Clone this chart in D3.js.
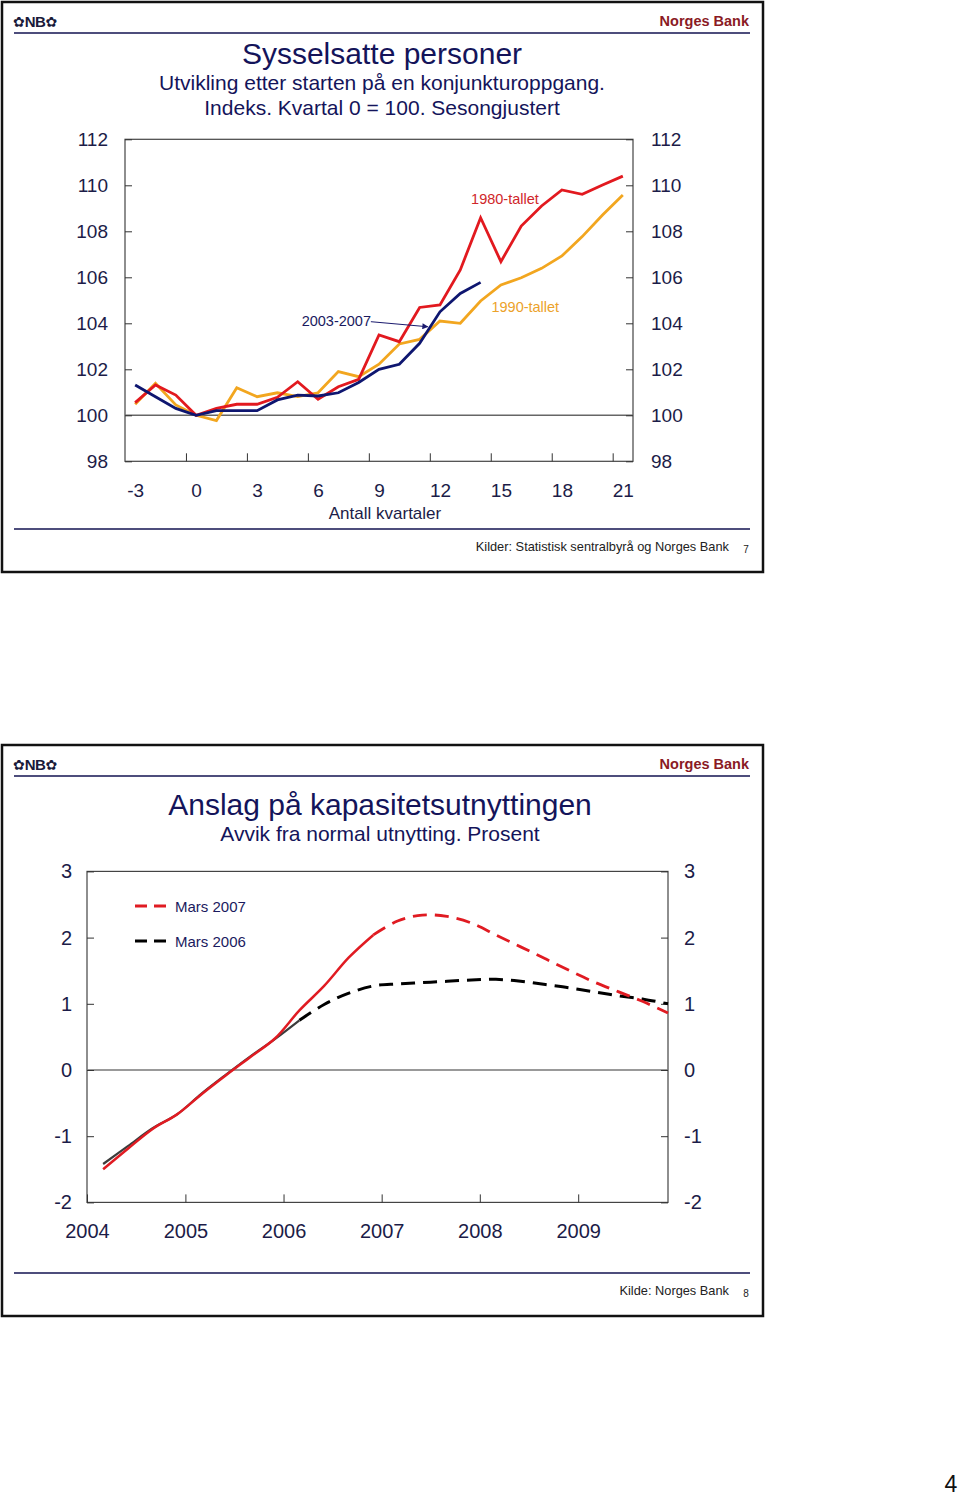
<!DOCTYPE html>
<html><head><meta charset="utf-8">
<script src="https://cdn.jsdelivr.net/npm/d3@7"></script>
<style>
body{margin:0;background:#fff;}
svg text{font-family:"Liberation Sans",Arial,sans-serif;}
</style></head><body>
<svg id="c" width="960" height="1497"></svg>
<script>
// ---------- Chart 1 data ----------
const quarters = [-3,-2,-1,0,1,2,3,4,5,6,7,8,9,10,11,12,13,14,15,16,17,18,19,20,21];
const tallet1980 = [100.55,101.32,100.88,100,100.3,100.48,100.48,100.78,101.46,100.7,101.24,101.56,103.49,103.2,104.69,104.8,106.32,108.59,106.68,108.23,109.1,109.8,109.61,110.01,110.4];
const tallet1990 = [100.48,101.39,100.45,100,99.77,101.2,100.81,100.98,100.81,100.98,101.9,101.68,102.22,103.1,103.3,104.1,104.0,104.97,105.67,105.98,106.39,106.93,107.77,108.71,109.58];
const periode2003 = [101.32,100.81,100.3,100,100.2,100.2,100.2,100.67,100.88,100.84,100.98,101.43,102.0,102.22,103.13,104.5,105.3,105.78];
const xTickLabels1 = [-3,0,3,6,9,12,15,18,21];
const yTicks1 = [98,100,102,104,106,108,110,112];

// ---------- Chart 2 data ----------
const quarterDates = ["2004-03","2004-06","2004-09","2004-12","2005-03","2005-06","2005-09","2005-12",
  "2006-03","2006-06","2006-09","2006-12","2007-03","2007-06","2007-09","2007-12",
  "2008-03","2008-06","2008-09","2008-12","2009-03","2009-06","2009-09","2009-12"];
const mars2007 = [-1.50,-1.19,-0.89,-0.67,-0.37,-0.08,0.20,0.48,0.90,1.27,1.70,2.04,2.25,2.34,2.32,2.22,2.04,1.86,1.68,1.50,1.33,1.18,1.03,0.86];
const mars2006 = [-1.42,-1.15,-0.88,-0.67,-0.36,-0.07,0.21,0.47,0.75,0.99,1.16,1.27,1.30,1.32,1.34,1.36,1.37,1.34,1.29,1.24,1.18,1.12,1.07,1.00];
const histEnd2007 = 11, histEnd2006 = 8;
const yTicks2 = [-2,-1,0,1,2,3];
const years2 = [2004,2005,2006,2007,2008,2009];

const svg = d3.select("#c");
const NAVY = "#14145a", TXT = "#1c1c48", DARKRED = "#8a1a24", RULE = "#4e4e7c";

function panel(y0, h, pageNo, source) {
  svg.append("rect").attr("x",2).attr("y",y0).attr("width",761).attr("height",h)
    .attr("fill","#fff").attr("stroke","#111").attr("stroke-width",2.5);
  const logo = svg.append("text").attr("x",13).attr("y",y0+19).attr("dy","0.35em").attr("fill","#1a1a3a");
  logo.append("tspan").attr("font-size",14).attr("font-family","DejaVu Sans").text("✿");
  logo.append("tspan").attr("font-size",15).attr("font-weight","bold").attr("letter-spacing",-0.5).text("NB");
  logo.append("tspan").attr("font-size",14).attr("font-family","DejaVu Sans").text("✿");
  svg.append("text").attr("x",749).attr("y",y0+19).attr("dy","0.35em").attr("text-anchor","end")
    .attr("font-size",14.5).attr("font-weight","bold").attr("fill",DARKRED).text("Norges Bank");
  svg.append("line").attr("x1",14).attr("x2",750).attr("y1",y0+31).attr("y2",y0+31)
    .attr("stroke",RULE).attr("stroke-width",2);
  svg.append("line").attr("x1",14).attr("x2",750).attr("y1",y0+h-43).attr("y2",y0+h-43)
    .attr("stroke",RULE).attr("stroke-width",2);
  svg.append("text").attr("x",729).attr("y",y0+h-25).attr("dy","0.35em").attr("text-anchor","end")
    .attr("font-size",12.8).attr("fill","#222").text(source);
  svg.append("text").attr("x",746).attr("y",y0+h-23).attr("dy","0.35em").attr("text-anchor","middle")
    .attr("font-size",10).attr("fill","#222").text(pageNo);
}

function styleAxis(g, fs) {
  g.select(".domain").remove();
  g.selectAll(".tick line").attr("stroke","#333").attr("stroke-width",1);
  g.selectAll(".tick text").attr("font-size",fs).attr("fill",TXT).attr("font-family","Liberation Sans, Arial, sans-serif");
}

// ================= PANEL 1 =================
panel(2, 570, "7", "Kilder: Statistisk sentralbyrå og Norges Bank");
svg.append("text").attr("x",382).attr("y",53).attr("dy","0.35em").attr("text-anchor","middle")
  .attr("font-size",30).attr("fill",NAVY).text("Sysselsatte personer");
svg.append("text").attr("x",382).attr("y",83).attr("dy","0.35em").attr("text-anchor","middle")
  .attr("font-size",21).attr("fill",NAVY).text("Utvikling etter starten på en konjunkturoppgang.");
svg.append("text").attr("x",382).attr("y",108).attr("dy","0.35em").attr("text-anchor","middle")
  .attr("font-size",21).attr("fill",NAVY).text("Indeks. Kvartal 0 = 100. Sesongjustert");

const L1 = 125, R1 = 633, T1 = 139.3, B1 = 461.3;
const x1 = d3.scaleLinear().domain([-3.5,21.5]).range([L1,R1]);
const y1 = d3.scaleLinear().domain([98,112]).range([B1,T1]);

svg.append("rect").attr("x",L1).attr("y",T1).attr("width",R1-L1).attr("height",B1-T1)
  .attr("fill","none").attr("stroke","#444").attr("stroke-width",1.2);
svg.append("line").attr("x1",L1).attr("x2",R1).attr("y1",y1(100)).attr("y2",y1(100))
  .attr("stroke","#666").attr("stroke-width",1.5);

let g;
g = svg.append("g").attr("transform",`translate(${L1},0)`)
  .call(d3.axisLeft(y1).tickValues(yTicks1).tickSize(-7).tickPadding(17).tickFormat(d=>String(d)));
styleAxis(g,19);
g = svg.append("g").attr("transform",`translate(${R1},0)`)
  .call(d3.axisRight(y1).tickValues(yTicks1).tickSize(-7).tickPadding(18).tickFormat(d=>String(d)));
styleAxis(g,19);
g = svg.append("g").attr("transform",`translate(0,${B1})`)
  .call(d3.axisBottom(x1).tickValues(xTickLabels1).tickSize(0).tickPadding(22.5).tickFormat(d=>String(d)));
styleAxis(g,19);
g = svg.append("g").attr("transform",`translate(0,${B1})`)
  .call(d3.axisBottom(x1).tickValues(xTickLabels1.slice(1).map(q=>q-0.5)).tickSize(-8).tickFormat(""));
styleAxis(g,19);
svg.append("text").attr("x",385).attr("y",513).attr("dy","0.35em").attr("text-anchor","middle")
  .attr("font-size",17).attr("fill",TXT).text("Antall kvartaler");

const line1 = d3.line().x((d,i)=>x1(quarters[i])).y(d=>y1(d));
[[tallet1990,"#f2a61f"],[tallet1980,"#e2191f"],[periode2003,"#0e1670"]].forEach(([arr,col])=>{
  svg.append("path").attr("d",line1(arr)).attr("fill","none").attr("stroke",col)
    .attr("stroke-width",2.8).attr("stroke-linejoin","miter");
});

// annotations
svg.append("text").attr("x",x1(15.2)).attr("y",y1(109.4)).attr("dy","0.35em").attr("text-anchor","middle")
  .attr("font-size",14.5).attr("fill","#d0262a").text("1980-tallet");
svg.append("text").attr("x",x1(16.2)).attr("y",y1(104.7)).attr("dy","0.35em").attr("text-anchor","middle")
  .attr("font-size",14.5).attr("fill","#eca22a").text("1990-tallet");
svg.append("text").attr("x",x1(6.9)).attr("y",y1(104.1)).attr("dy","0.35em").attr("text-anchor","middle")
  .attr("font-size",14.5).attr("fill","#1a1a5e").text("2003-2007");
const defs = svg.append("defs");
defs.append("marker").attr("id","arr").attr("viewBox","0 0 10 10").attr("refX",9).attr("refY",5)
  .attr("markerWidth",7).attr("markerHeight",6).attr("orient","auto")
  .append("path").attr("d","M0,0 L10,5 L0,10 z").attr("fill","#1a1a6e");
svg.append("line").attr("x1",x1(8.6)).attr("y1",y1(104.07)).attr("x2",x1(11.4)).attr("y2",y1(103.85))
  .attr("stroke","#1a1a6e").attr("stroke-width",1).attr("marker-end","url(#arr)");

// ================= PANEL 2 =================
panel(745, 571, "8", "Kilde: Norges Bank");
svg.append("text").attr("x",380).attr("y",804).attr("dy","0.35em").attr("text-anchor","middle")
  .attr("font-size",30).attr("fill",NAVY).text("Anslag på kapasitetsutnyttingen");
svg.append("text").attr("x",380).attr("y",834).attr("dy","0.35em").attr("text-anchor","middle")
  .attr("font-size",21).attr("fill",NAVY).text("Avvik fra normal utnytting. Prosent");

const L2 = 87, R2 = 668, T2 = 871.4, B2 = 1202.4;
const parseM = d3.timeParse("%Y-%m");
const x2 = d3.scaleTime().domain([new Date(2004,0,1), new Date(2009,11,1)]).range([L2,R2]);
const y2 = d3.scaleLinear().domain([-2,3]).range([B2,T2]);

svg.append("rect").attr("x",L2).attr("y",T2).attr("width",R2-L2).attr("height",B2-T2)
  .attr("fill","none").attr("stroke","#444").attr("stroke-width",1.2);
svg.append("line").attr("x1",L2).attr("x2",R2).attr("y1",y2(0)).attr("y2",y2(0))
  .attr("stroke","#777").attr("stroke-width",1.5);

g = svg.append("g").attr("transform",`translate(${L2},0)`)
  .call(d3.axisLeft(y2).tickValues(yTicks2).tickSize(-7).tickPadding(15).tickFormat(d=>String(d)));
styleAxis(g,20);
g = svg.append("g").attr("transform",`translate(${R2},0)`)
  .call(d3.axisRight(y2).tickValues(yTicks2).tickSize(-7).tickPadding(16).tickFormat(d=>String(d)));
styleAxis(g,20);
g = svg.append("g").attr("transform",`translate(0,${B2})`)
  .call(d3.axisBottom(x2).tickValues(years2.map(y=>new Date(y,0,1))).tickSize(-8).tickPadding(21).tickFormat(d=>String(d.getFullYear())));
styleAxis(g,20);
g.selectAll(".tick text").attr("y",21);

const dates = quarterDates.map(parseM);
const line2 = d3.line().curve(d3.curveCatmullRom.alpha(0.5)).x(d=>x2(d.t)).y(d=>y2(d.v));
const pts07 = mars2007.map((v,i)=>({t:dates[i],v}));
const pts06 = mars2006.map((v,i)=>({t:dates[i],v}));

svg.append("path").attr("d",line2(pts06.slice(histEnd2006))).attr("fill","none")
  .attr("stroke","#000").attr("stroke-width",3).attr("stroke-dasharray","14,8");
svg.append("path").attr("d",line2(pts06.slice(0,histEnd2006+1))).attr("fill","none")
  .attr("stroke","#3c3c3c").attr("stroke-width",2.2);
svg.append("path").attr("d",line2(pts07.slice(histEnd2007))).attr("fill","none")
  .attr("stroke","#e01b22").attr("stroke-width",2.8).attr("stroke-dasharray","14,8");
svg.append("path").attr("d",line2(pts07.slice(0,histEnd2007+1))).attr("fill","none")
  .attr("stroke","#e01b22").attr("stroke-width",2.5);

// legend
const legend = [["Mars 2007","#e01b22",906],["Mars 2006","#000",941]];
legend.forEach(([lab,col,yy])=>{
  svg.append("line").attr("x1",135).attr("x2",172).attr("y1",yy).attr("y2",yy)
    .attr("stroke",col).attr("stroke-width",3).attr("stroke-dasharray","12,7");
  svg.append("text").attr("x",175).attr("y",yy+1).attr("dy","0.35em")
    .attr("font-size",15).attr("fill","#1a1a5e").text(lab);
});

// page number
svg.append("text").attr("x",951).attr("y",1492).attr("text-anchor","middle")
  .attr("font-size",23).attr("font-family","Liberation Serif, serif").attr("fill","#111").text("4");
</script>
</body></html>
